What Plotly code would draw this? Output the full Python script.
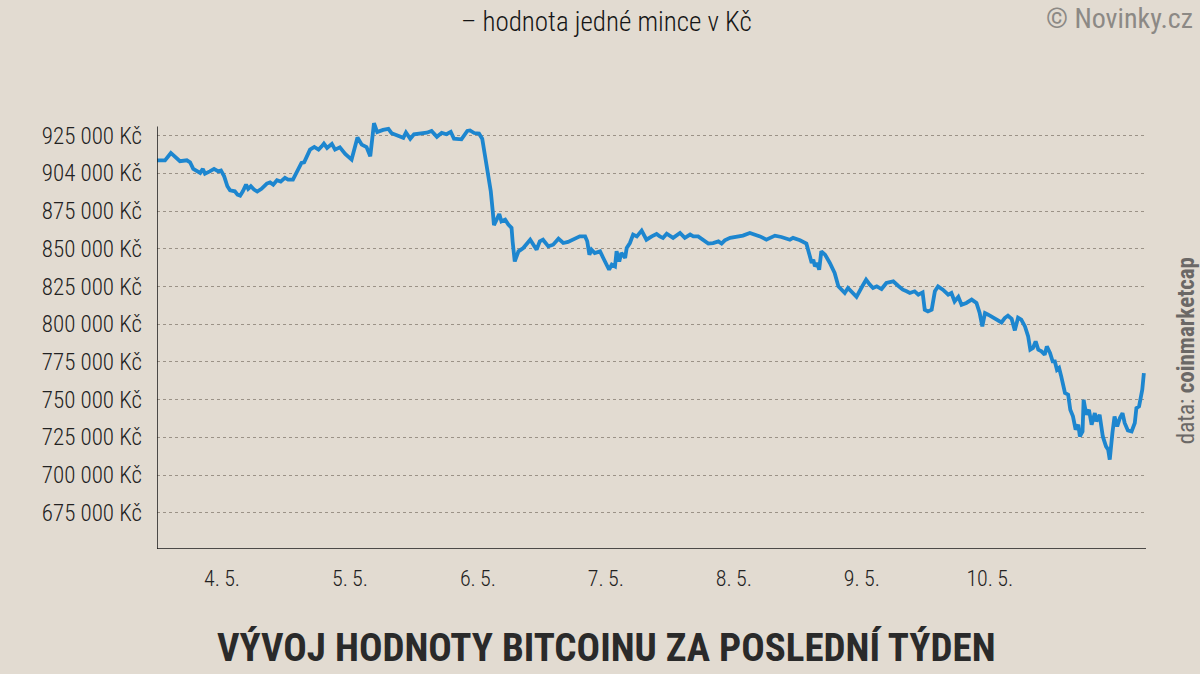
import plotly.graph_objects as go

# hours since 4.5. 00:00, price in thousands of Kč
hours = [
    -12.2, -10.7, -9.6, -8.5, -7.9, -6.6, -6.0, -5.4, -4.7, -4.1,
    -3.6, -3.2, -2.3, -1.5, -0.7, -0.2, 0.4, 1.0, 1.5, 2.4,
    2.9, 3.4, 3.9, 4.5, 4.9, 5.4, 6.0, 6.6, 7.4, 8.4,
    9.0, 9.6, 10.3, 11.0, 11.8, 12.4, 13.3, 14.0, 14.6, 14.9,
    15.4, 15.9, 16.5, 17.3, 18.1, 18.7, 19.1, 19.7, 20.6, 21.2,
    22.1, 23.1, 24.3, 25.4, 26.2, 27.1, 27.8, 28.5, 29.1, 30.2,
    31.2, 31.8, 33.1, 34.0, 34.5, 35.3, 36.0, 37.1, 38.4, 39.3,
    40.3, 41.2, 42.1, 42.9, 43.5, 44.9, 46.0, 46.5, 47.3, 48.2,
    48.8, 49.3, 49.9, 50.4, 50.8, 51.0, 51.5, 52.0, 52.4, 53.1,
    53.7, 54.3, 54.5, 54.9, 55.6, 56.5, 57.8, 58.4, 59.0, 59.6,
    60.2, 61.2, 62.1, 63.1, 64.0, 64.9, 65.9, 67.1, 68.1, 68.5,
    68.9, 69.3, 69.9, 70.9, 71.5, 72.1, 72.6, 73.1, 73.7, 74.0,
    74.5, 74.9, 75.6, 75.9, 76.5, 77.1, 77.8, 78.7, 79.6, 80.6,
    81.5, 82.1, 82.7, 83.4, 84.6, 85.9, 86.8, 87.8, 88.4, 89.3,
    90.2, 91.2, 92.1, 93.1, 93.7, 94.3, 95.3, 96.5, 97.7, 99.0,
    99.9, 100.9, 102.1, 103.7, 104.9, 106.5, 107.1, 108.4, 109.6, 109.9,
    110.3, 110.6, 110.9, 111.2, 111.6, 112.0, 112.4, 113.1, 114.0, 114.9,
    115.6, 116.2, 116.8, 117.4, 118.4, 119.0, 119.9, 120.8, 121.5, 122.1,
    122.8, 123.7, 124.6, 125.9, 126.8, 127.7, 128.4, 129.0, 129.9, 130.6,
    131.4, 131.8, 132.4, 133.1, 133.7, 134.3, 135.2, 136.2, 136.8, 137.4,
    138.1, 138.7, 139.6, 140.6, 141.5, 142.1, 142.6, 143.1, 143.7, 144.3,
    145.3, 146.2, 146.8, 147.4, 148.1, 148.7, 149.3, 149.9, 150.6, 151.2,
    151.6, 152.1, 152.6, 153.1, 153.7, 154.3, 154.7, 155.3, 155.8, 156.2,
    156.6, 157.0, 157.4, 158.1, 158.7, 159.1, 159.6, 160.1, 160.6, 160.9,
    161.4, 161.6, 162.1, 162.6, 163.1, 163.7, 164.0, 164.6, 165.2, 165.8,
    166.2, 166.5, 167.0, 167.4, 167.9, 168.4, 168.9, 169.3, 169.9, 170.6,
    171.2, 171.5, 172.0, 172.3, 172.6, 172.9,
]

price_k = [
    908.6, 908.6, 913.5, 909.6, 908.0, 908.6, 907.3, 902.9, 901.3, 900.3,
    902.9, 899.8, 901.3, 902.9, 901.3, 901.9, 898.0, 891.4, 888.7, 888.1,
    885.9, 885.2, 888.1, 892.5, 889.7, 891.4, 889.2, 887.9, 889.7, 893.2,
    894.0, 892.5, 895.4, 894.5, 897.0, 895.8, 895.8, 900.3, 904.6, 906.9,
    907.3, 910.9, 915.7, 917.5, 915.7, 917.9, 919.7, 916.8, 919.5, 915.7,
    917.2, 912.9, 909.1, 923.7, 919.0, 917.4, 911.3, 933.2, 927.3, 928.8,
    929.5, 926.6, 924.5, 923.5, 927.1, 922.9, 925.9, 926.5, 926.9, 928.1,
    924.2, 926.8, 925.9, 927.5, 922.9, 922.5, 928.1, 928.4, 926.7, 926.3,
    923.0, 912.1, 898.8, 888.2, 873.9, 865.7, 869.3, 873.0, 868.2, 869.3,
    866.0, 863.8, 854.9, 841.6, 848.3, 850.5, 856.0, 852.7, 849.4, 854.9,
    856.0, 851.6, 852.7, 856.7, 853.8, 854.5, 856.0, 858.2, 858.2, 854.9,
    846.1, 849.4, 847.2, 848.3, 843.9, 839.5, 836.1, 839.5, 838.3, 848.3,
    841.6, 847.2, 843.9, 850.5, 853.8, 859.4, 858.2, 862.0, 856.0, 858.2,
    859.8, 858.2, 857.2, 860.0, 857.2, 860.5, 857.2, 859.4, 858.2, 858.2,
    856.0, 853.4, 853.8, 854.9, 853.4, 855.6, 857.2, 858.2, 858.7, 860.5,
    859.4, 858.2, 856.0, 858.7, 857.8, 856.0, 857.2, 855.6, 853.4, 849.4,
    843.9, 840.6, 842.8, 838.3, 840.6, 836.1, 848.3, 846.1, 840.6, 834.0,
    825.1, 822.9, 820.7, 824.0, 820.7, 818.1, 824.0, 829.5, 826.2, 824.0,
    825.1, 823.3, 827.3, 828.4, 825.5, 822.9, 821.8, 820.7, 821.8, 819.6,
    821.1, 809.6, 808.5, 809.6, 821.8, 825.1, 822.9, 819.6, 820.7, 815.1,
    818.1, 812.9, 814.1, 816.3, 814.1, 807.4, 798.5, 807.4, 806.3, 805.2,
    803.0, 801.2, 804.1, 805.6, 803.5, 795.9, 804.3, 803.0, 798.5, 791.9,
    783.1, 784.2, 788.6, 783.1, 782.0, 779.8, 785.3, 780.9, 775.3, 775.3,
    769.8, 771.0, 765.4, 754.4, 753.3, 743.3, 738.9, 730.1, 733.4, 725.6,
    728.9, 749.9, 740.0, 743.3, 733.4, 741.1, 735.6, 740.0, 725.6, 719.0,
    716.8, 710.2, 727.9, 738.9, 732.2, 737.8, 741.1, 734.5, 729.6, 728.9,
    734.5, 744.4, 745.5, 752.1, 756.6, 767.6,
]

y_ticks = [675, 700, 725, 750, 775, 800, 825, 850, 875, 900, 925]
y_labels = ["675 000 Kč", "700 000 Kč", "725 000 Kč", "750 000 Kč", "775 000 Kč",
            "800 000 Kč", "825 000 Kč", "850 000 Kč", "875 000 Kč", "904 000 Kč",
            "925 000 Kč"]
x_ticks = [0, 24, 48, 72, 96, 120, 144]
x_labels = ["4.\u20095.", "5.\u20095.", "6.\u20095.", "7.\u20095.", "8.\u20095.",
            "9.\u20095.", "10.\u20095."]

FONT = "Roboto Condensed, Liberation Sans Narrow, Arial Narrow, Liberation Sans, sans-serif"
X_MIN, X_MAX = -12.2, 173.3
Y_MIN, Y_MAX = 651.0, 936.0

fig = go.Figure()

fig.add_trace(
    go.Scatter(
        x=hours,
        y=price_k,
        mode="lines",
        line=dict(color="#1d86cf", width=3.8),
        hoverinfo="skip",
        showlegend=False,
    )
)

# axis lines (left one stops at the plot top like in the original)
fig.add_shape(type="line", xref="x", yref="y", x0=X_MIN, x1=X_MIN, y0=Y_MIN, y1=931,
              line=dict(color="#1a1a1a", width=1.5))
fig.add_shape(type="line", xref="x", yref="y", x0=X_MIN, x1=X_MAX, y0=Y_MIN, y1=Y_MIN,
              line=dict(color="#1a1a1a", width=1.5))

fig.update_layout(
    width=1200,
    height=674,
    paper_bgcolor="#e2dbd1",
    plot_bgcolor="rgba(0,0,0,0)",
    margin=dict(l=157, r=54, t=119, b=125),
    font=dict(family=FONT, color="#222222"),
    xaxis=dict(
        range=[X_MIN, X_MAX],
        tickvals=x_ticks,
        ticktext=x_labels,
        showgrid=False,
        zeroline=False,
        showline=False,
        ticks="",
        tickfont=dict(size=22, color="#222222", weight=300),
        ticklabelstandoff=14,
    ),
    yaxis=dict(
        range=[Y_MIN, Y_MAX],
        tickvals=y_ticks,
        ticktext=y_labels,
        showgrid=True,
        gridcolor="#9b9287",
        griddash="dot",
        gridwidth=1,
        zeroline=False,
        showline=False,
        ticks="",
        tickfont=dict(size=23, color="#222222", weight=300),
        ticklabelstandoff=14,
    ),
)

fig.add_annotation(
    text="– hodnota jedné mince v Kč", xref="paper", yref="paper",
    x=0.455, y=1.0, yshift=97, xanchor="center", yanchor="middle", showarrow=False,
    font=dict(family=FONT, size=27, color="#151515", weight=300),
)
fig.add_annotation(
    text="© Novinky.cz", xref="paper", yref="paper",
    x=1.0, y=1.0, xshift=49, yshift=101, xanchor="right", yanchor="middle", showarrow=False,
    font=dict(family=FONT, size=28, color="#8c8985"),
)
fig.add_annotation(
    text="<b>VÝVOJ HODNOTY BITCOINU ZA POSLEDNÍ TÝDEN</b>", xref="paper", yref="paper",
    x=0.455, y=0.0, yshift=-99, xanchor="center", yanchor="middle", showarrow=False,
    font=dict(family=FONT, size=39, color="#2a2a2a"),
)
fig.add_annotation(
    text="data: <b>coinmarketcap</b>", xref="paper", yref="paper",
    x=1.0, xshift=40, y=0.46, xanchor="center", yanchor="middle", showarrow=False,
    textangle=-90,
    font=dict(family=FONT, size=23, color="#6b6866"),
)

fig.write_html(
    "out.html",
    config={"displayModeBar": False},
    post_script="document.body.style.margin='0';document.body.style.overflow='hidden';",
)
